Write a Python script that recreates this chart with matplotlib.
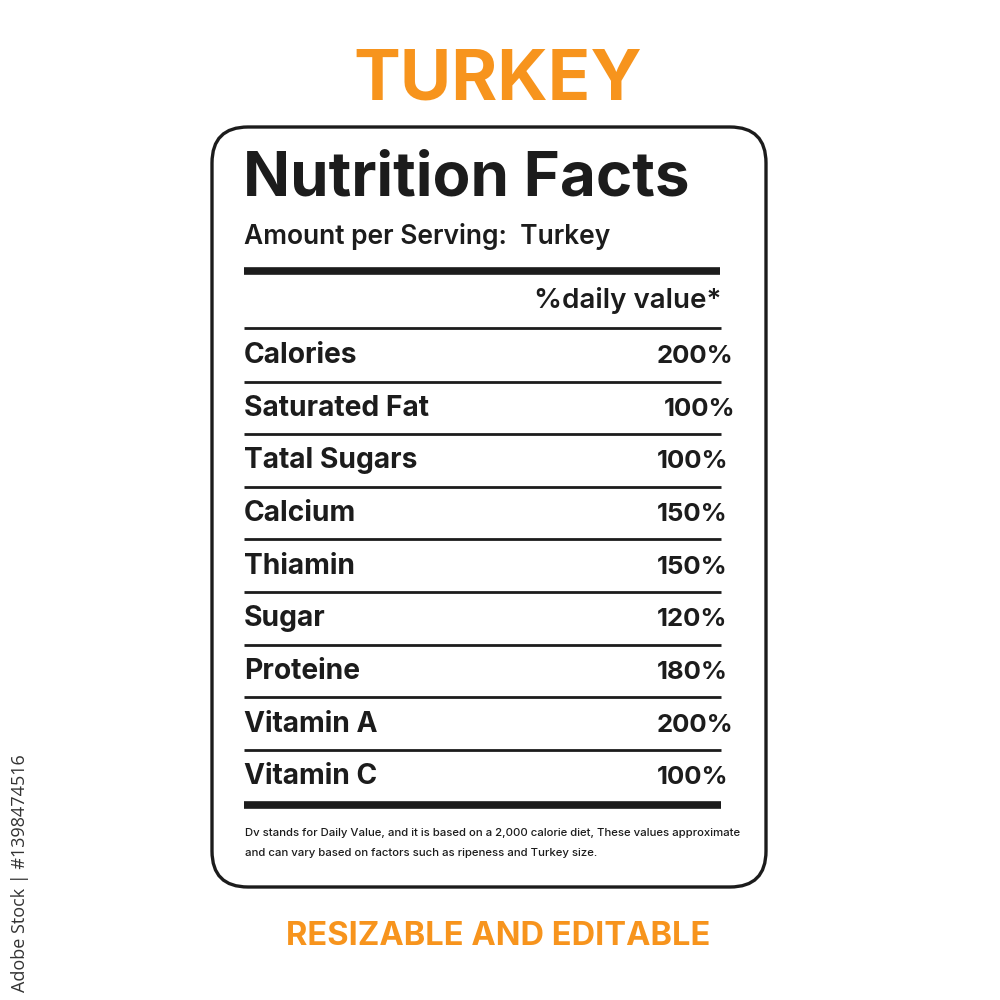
import matplotlib
matplotlib.use("Agg")
import matplotlib.pyplot as plt
from matplotlib.patches import FancyBboxPatch

# label content
title = "TURKEY"
subtitle = "RESIZABLE AND EDITABLE"
serving = "Amount per Serving:  Turkey"
nutrients = ["Calories", "Saturated Fat", "Tatal Sugars", "Calcium", "Thiamin",
             "Sugar", "Proteine", "Vitamin A", "Vitamin C"]
daily_values = [200, 100, 100, 150, 150, 120, 180, 200, 100]
footnote = ["Dv stands for Daily Value, and it is based on a 2,000 calorie diet, These values approximate",
            "and can vary based on factors such as ripeness and Turkey size."]

ORANGE = "#F7941D"
INK = "#1c1c1c"
plt.rcParams["font.family"] = ["Inter", "DejaVu Sans"]

fig = plt.figure(figsize=(10, 10), dpi=100)
ax = fig.add_axes([0, 0, 1, 1])
ax.set_xlim(0, 1000)
ax.set_ylim(1000, 0)
ax.axis("off")

ax.text(498, 100, title, color=ORANGE, fontsize=50.5, fontweight="bold", ha="center", va="baseline")

box = FancyBboxPatch((212, 127), 554, 760, boxstyle="round,pad=0,rounding_size=36",
                     fc="white", ec=INK, lw=2.4)
ax.add_patch(box)

ax.text(243, 196, "Nutrition Facts", color=INK, fontsize=44.5, fontweight="bold", ha="left", va="baseline")
ax.text(244, 244, serving, color=INK, fontsize=19, fontweight="semibold", ha="left", va="baseline")
ax.plot([244, 720], [271, 271], color=INK, lw=5.5, solid_capstyle="butt")
ax.text(721, 308, "%daily value*", color=INK, fontsize=20, fontweight="semibold", ha="right", va="baseline")
ax.plot([244, 721], [328, 328], color=INK, lw=2, solid_capstyle="butt")

step = 52.65
for i, (name, val) in enumerate(zip(nutrients, daily_values)):
    base = 363 + i * step
    ax.text(244, base, name, color=INK, fontsize=20.3, fontweight="bold", ha="left", va="baseline")
    x_val = 664 if name == "Saturated Fat" else 657
    ax.text(x_val, base, f"{val}%", color=INK, fontsize=18.5, fontweight="bold", ha="left", va="baseline")
    if i < len(nutrients) - 1:
        ax.plot([244, 721], [base + 18.5, base + 18.5], color=INK, lw=2, solid_capstyle="butt")

ax.plot([244, 721], [805, 805], color=INK, lw=5.5, solid_capstyle="butt")
ax.text(245, 836, footnote[0], color=INK, fontsize=8.2, fontweight="medium", ha="left", va="baseline")
ax.text(245, 856, footnote[1], color=INK, fontsize=8.2, fontweight="medium", ha="left", va="baseline")

ax.text(498, 945, subtitle, color=ORANGE, fontsize=23.5, fontweight="bold", ha="center", va="baseline")

ax.text(20, 873, "Adobe Stock | #1398474516", color="#333333", fontsize=13, rotation=90,
        ha="center", va="center", family=["Open Sans", "DejaVu Sans"])

fig.savefig("out.png", dpi=100, facecolor="white")
